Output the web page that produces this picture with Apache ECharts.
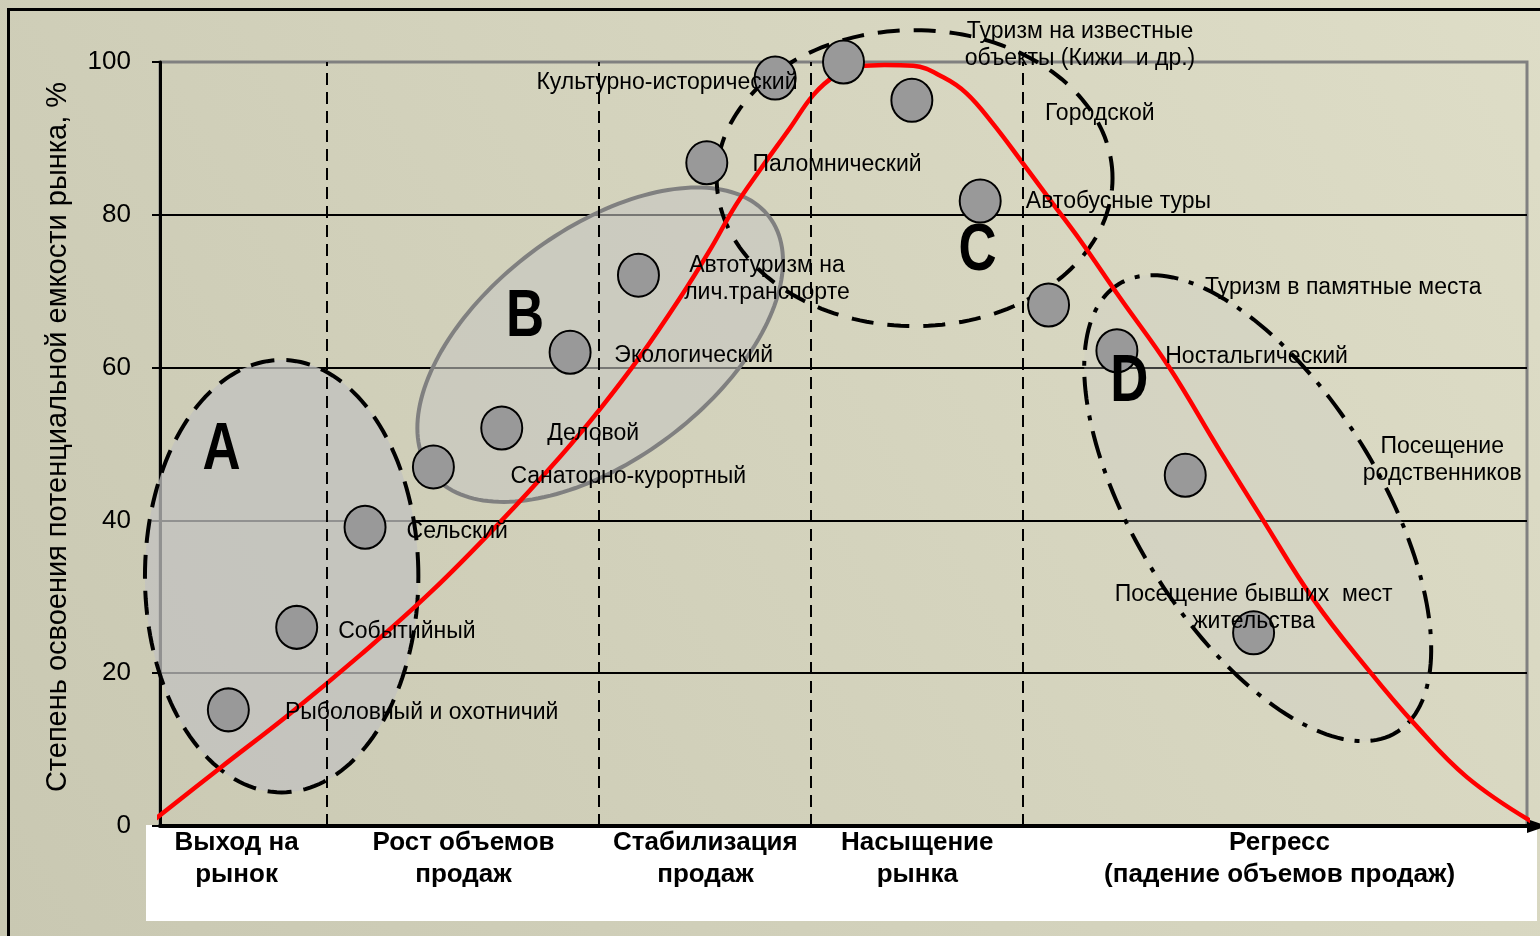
<!DOCTYPE html>
<html>
<head>
<meta charset="utf-8">
<title>Жизненный цикл видов туризма</title>
<script src="https://cdn.jsdelivr.net/npm/echarts@6/dist/echarts.min.js"></script>
<style>
  html, body { margin: 0; padding: 0; }
  #chart { width: 1540px; height: 936px; }
</style>
</head>
<body>
<div id="chart"></div>
<script>
// красная кривая жизненного цикла (x - условное время, y - % освоения)
const curveX = [-1, 4.4, 9.5, 14.6, 19.8, 24.9, 29.3, 32.2, 35.1, 38.0, 40.2, 42.1, 43.9, 46.1, 47.8, 49.4, 51.2, 53.0, 55.1, 57.3, 59.0, 60.9, 63.1, 65.3, 67.3, 70.2, 73.8, 77.5, 80.6, 84.4, 88.5, 91.7, 95.6, 100.4];
const curveY = [0, 7.6, 14.7, 22.3, 30.6, 39.8, 48.4, 54.6, 61.4, 69.0, 75.3, 81.2, 85.9, 91.4, 95.7, 98.2, 99.4, 99.6, 99.5, 98.0, 95.9, 92.0, 86.8, 81.5, 76.7, 69.2, 60.1, 49.2, 40.3, 29.6, 20.2, 13.5, 6.4, 0.5];

// виды туризма (серые кружки)
const pointX = [5, 10, 15, 20, 25, 30, 35, 40, 45, 50, 55, 60, 65, 70, 75, 80];
const pointY = [15.2, 26.0, 39.1, 47.0, 52.1, 62.0, 72.1, 86.8, 97.9, 100, 95.0, 81.8, 68.2, 62.2, 45.9, 25.3];

// подписи видов туризма
const labelNames = [
  'Рыболовный и охотничий', 'Событийный', 'Сельский', 'Санаторно-курортный', 'Деловой',
  'Экологический', 'Паломнический', 'Культурно-исторический', 'Городской', 'Автобусные туры',
  'Туризм в памятные места', 'Ностальгический',
  'Автотуризм на\nлич.транспорте', 'Туризм на известные\nобъекты (Кижи  и др.)',
  'Посещение\nродственников', 'Посещение бывших  мест\nжительства'
];
const labelX = [9.1, 13.0, 18.0, 25.6, 28.3, 33.2, 43.3, 27.5, 64.7, 63.3, 76.4, 73.5, 44.4, 67.3, 93.8, 80.0];
const labelY = [14.8, 25.5, 38.5, 45.7, 51.4, 61.5, 86.6, 97.3, 93.2, 81.7, 70.5, 61.4, 71.6, 102.2, 47.9, 28.5];
const labelCentered = [false, false, false, false, false, false, false, false, false, false, false, false, true, true, true, true];

// группы A-D
const groupNames = ['A', 'B', 'C', 'D'];
const groupX = [4.5, 26.7, 59.8, 70.9];
const groupY = [49.1, 66.5, 75.1, 58.0];

// эллипсы групп: центр и две полуоси (в единицах осей)
const ellCx = [8.9, 32.2, 55.2, 80.3];
const ellCy = [32.7, 63.0, 84.8, 41.6];
const ellUx = [10.0, 12.38, 14.48, 10.18];
const ellUy = [0, 16.70, 0, -29.31];
const ellVx = [0, 5.06, 0, -7.58];
const ellVy = [28.3, -12.02, 19.37, -8.43];

// этапы жизненного цикла
const stageNames = ['Выход на\nрынок', 'Рост объемов\nпродаж', 'Стабилизация\nпродаж', 'Насыщение\nрынка', 'Регресс\n(падение объемов продаж)'];
const stageCenters = [5.6, 22.2, 39.9, 55.4, 81.9];
const stageBorders = [12.2, 32.1, 47.6, 63.1];

const yTicks = [0, 20, 40, 60, 80, 100];

const font = 'Liberation Sans, Arial, sans-serif';

const ellipseStyles = [
  { fill: 'rgba(194,194,192,0.75)', stroke: '#000', lineWidth: 4, lineDash: [24, 12] },
  { fill: 'rgba(198,198,194,0.6)', stroke: '#808080', lineWidth: 4 },
  { fill: 'none', stroke: '#000', lineWidth: 4, lineDash: [22, 14] },
  { fill: 'rgba(204,204,198,0.3)', stroke: '#000', lineWidth: 4, lineDash: [28, 11, 5, 11] }
];

// невидимый маркер для текстовых подписей
const hiddenItem = { color: 'transparent', opacity: 1 };

let chart = echarts.init(document.getElementById('chart'));

chart.setOption({
  animation: false,
  backgroundColor: {
    type: 'linear', x: 1, y: 0, x2: 0, y2: 1,
    colorStops: [{ offset: 0, color: '#DEDDC7' }, { offset: 1, color: '#C9C8B2' }]
  },
  graphic: [
    // рамка слайда
    { type: 'rect', z: -2, shape: { x: 8.5, y: 9.5, width: 1600, height: 1000 },
      style: { fill: 'none', stroke: '#000', lineWidth: 3 } },
    // белая подложка под названиями этапов
    { type: 'rect', z: -1, shape: { x: 146, y: 825, width: 1391, height: 96 },
      style: { fill: '#fff' } }
  ],
  grid: {
    left: 160, right: 13, top: 62, bottom: 110,
    show: true, borderColor: '#808080', borderWidth: 3
  },
  xAxis: {
    type: 'value', min: 0, max: 100,
    axisLine: {
      show: true, onZero: false,
      symbol: ['none', 'triangle'], symbolSize: [14, 20], symbolOffset: [0, 10],
      lineStyle: { color: '#000', width: 4 }
    },
    axisTick: { show: false },
    axisLabel: { show: false },
    splitLine: { show: false }
  },
  yAxis: {
    type: 'value', min: yTicks[0], max: yTicks[yTicks.length - 1], interval: 20,
    name: 'Степень освоения потенциальной емкости рынка, %',
    nameLocation: 'middle', nameRotate: 90, nameGap: 88,
    nameTextStyle: { fontSize: 29, color: '#000', fontFamily: font, padding: [0, 0, 0, 14] },
    axisLine: { show: true, lineStyle: { color: '#000', width: 3 } },
    axisTick: { show: true, length: 8, lineStyle: { color: '#000', width: 2 } },
    axisLabel: { fontSize: 26, color: '#000', margin: 29, fontFamily: font },
    splitLine: { show: true, showMaxLine: false, lineStyle: { color: '#000', width: 2 } }
  },
  series: [
    {
      // эллипсы групп A-D
      type: 'custom',
      z: 1,
      silent: true,
      data: ellCx.map((c, i) => [c, ellCy[i]]),
      renderItem: function (params, api) {
        const i = params.dataIndex;
        const pts = [];
        for (let k = 0; k <= 180; k++) {
          const t = k / 180 * Math.PI * 2;
          pts.push(api.coord([
            ellCx[i] + ellUx[i] * Math.cos(t) + ellVx[i] * Math.sin(t),
            ellCy[i] + ellUy[i] * Math.cos(t) + ellVy[i] * Math.sin(t)
          ]));
        }
        return { type: 'polygon', shape: { points: pts }, style: ellipseStyles[i] };
      }
    },
    {
      // кривая жизненного цикла + границы этапов
      type: 'line',
      z: 3,
      clip: false,
      smooth: 0.4,
      symbol: 'none',
      lineStyle: { color: '#FF0000', width: 4.5 },
      data: curveX.map((x, i) => [x, curveY[i]]),
      markLine: {
        silent: true,
        symbol: 'none',
        label: { show: false },
        lineStyle: { color: '#000', width: 2, type: [12, 7] },
        data: stageBorders.map(b => ({ xAxis: b }))
      }
    },
    {
      // виды туризма
      type: 'scatter',
      z: 4,
      clip: false,
      symbol: 'circle',
      symbolSize: [41, 43],
      itemStyle: { color: '#999999', borderColor: '#000', borderWidth: 2, opacity: 1 },
      data: pointX.map((x, i) => [x, pointY[i]])
    },
    {
      // подписи видов туризма
      type: 'scatter',
      z: 5,
      clip: false,
      silent: true,
      symbolSize: 1,
      itemStyle: hiddenItem,
      label: { show: true, fontSize: 23, lineHeight: 27, color: '#000', fontFamily: font, formatter: '{b}' },
      data: labelNames.map((n, i) => ({
        name: n,
        value: [labelX[i], labelY[i]],
        label: labelCentered[i]
          ? { position: 'inside', align: 'center' }
          : { position: 'right', distance: 0 }
      }))
    },
    {
      // буквы групп (узкое начертание)
      type: 'custom',
      z: 5,
      silent: true,
      data: groupNames.map((n, i) => [groupX[i], groupY[i]]),
      renderItem: function (params, api) {
        const p = api.coord([api.value(0), api.value(1)]);
        return {
          type: 'text', x: p[0], y: p[1], scaleX: 0.8,
          style: {
            text: groupNames[params.dataIndex], fill: '#000',
            font: 'bold 66px Liberation Sans, Arial, sans-serif',
            align: 'center', verticalAlign: 'middle'
          }
        };
      }
    },
    {
      // названия этапов
      type: 'scatter',
      z: 5,
      clip: false,
      silent: true,
      symbolSize: 1,
      itemStyle: hiddenItem,
      label: {
        show: true, position: 'bottom', distance: 0, formatter: '{b}', align: 'center',
        fontSize: 26, fontWeight: 'bold', lineHeight: 32, color: '#000', fontFamily: font
      },
      data: stageNames.map((n, i) => ({ name: n, value: [stageCenters[i], 0] }))
    }
  ]
});
</script>
</body>
</html>
